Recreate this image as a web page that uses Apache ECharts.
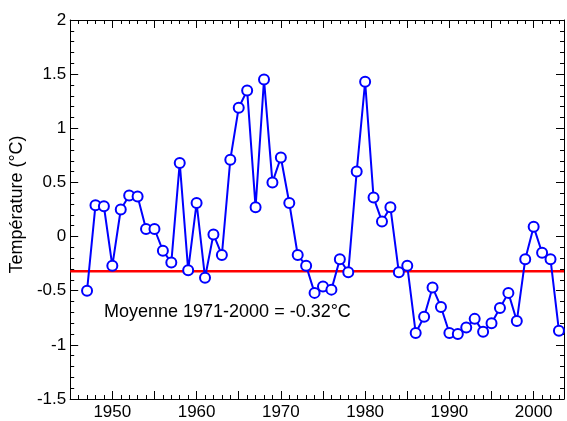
<!DOCTYPE html>
<html>
<head>
<meta charset="utf-8">
<script src="https://cdn.jsdelivr.net/npm/echarts@6/dist/echarts.min.js"></script>
<style>
  html, body { margin: 0; padding: 0; background: #fff; }
  #chart { width: 567px; height: 421px; }
</style>
</head>
<body>
<div id="chart"></div>
<script>
  const years = []
  for (let y = 1947; y <= 2003; y++) years.push(y)

  const temps = [
    -0.50, 0.29, 0.28, -0.27, 0.25, 0.38, 0.37, 0.07, 0.07, -0.13,
    -0.24, 0.68, -0.31, 0.31, -0.38, 0.02, -0.17, 0.71, 1.19, 1.35,
    0.27, 1.45, 0.50, 0.73, 0.31, -0.17, -0.27, -0.52, -0.46, -0.49,
    -0.21, -0.33, 0.60, 1.43, 0.36, 0.14, 0.27, -0.33, -0.27, -0.89,
    -0.74, -0.47, -0.65, -0.89, -0.90, -0.84, -0.76, -0.88, -0.80, -0.66,
    -0.52, -0.78, -0.21, 0.09, -0.15, -0.21, -0.87
  ]

  const meanValue = -0.32
  const meanLabel = 'Moyenne 1971-2000 = -0.32°C'

  const chart = echarts.init(document.getElementById('chart'))

  const axisCommon = {
    axisLine: { show: true, onZero: false, lineStyle: { color: '#000', width: 1 } },
    axisTick: { show: true, inside: true, length: 8, lineStyle: { color: '#000' } },
    minorTick: { show: true, splitNumber: 5, length: 4, lineStyle: { color: '#000' } },
    splitLine: { show: false }
  }

  const xBase = {
    type: 'value',
    min: 1945,
    max: 2003.6,
    interval: 5
  }

  const yBase = {
    type: 'value',
    min: -1.5,
    max: 2,
    interval: 0.5
  }

  chart.setOption({
    animation: false,
    textStyle: { fontFamily: 'Liberation Sans, Arial, sans-serif' },
    grid: { left: 69, right: 1, top: 20, bottom: 21 },
    graphic: [{
      type: 'text',
      left: 104,
      top: 303,
      style: {
        text: meanLabel,
        fontSize: 18,
        fill: '#000',
        fontFamily: 'Liberation Sans, Arial, sans-serif'
      }
    }],
    xAxis: [
      Object.assign({}, xBase, axisCommon, {
        position: 'bottom',
        axisLabel: {
          color: '#000',
          fontSize: 17,
          margin: 5,
          formatter: (v) => (v % 10 === 0 ? String(v) : '')
        }
      }),
      Object.assign({}, xBase, axisCommon, {
        position: 'top',
        axisLabel: { show: false }
      })
    ],
    yAxis: [
      Object.assign({}, yBase, axisCommon, {
        position: 'left',
        name: 'Température (°C)',
        nameLocation: 'middle',
        nameGap: 40,
        nameTextStyle: { color: '#000', fontSize: 18, padding: [0, 0, 0, 10] },
        axisLabel: { color: '#000', fontSize: 17, margin: 4 }
      }),
      Object.assign({}, yBase, axisCommon, {
        position: 'right',
        axisLabel: { show: false }
      })
    ],
    series: [
      {
        type: 'line',
        data: years.map((y, i) => [y, temps[i]]),
        symbol: 'emptyCircle',
        symbolSize: 10,
        lineStyle: { color: '#0000ff', width: 2 },
        itemStyle: { color: '#0000ff', borderWidth: 2 },
        z: 3
      },
      {
        type: 'line',
        data: [[1945, meanValue], [2003.6, meanValue]],
        symbol: 'none',
        lineStyle: { color: '#ff0000', width: 2.5 },
        z: 2
      }
    ]
  })
</script>
</body>
</html>
